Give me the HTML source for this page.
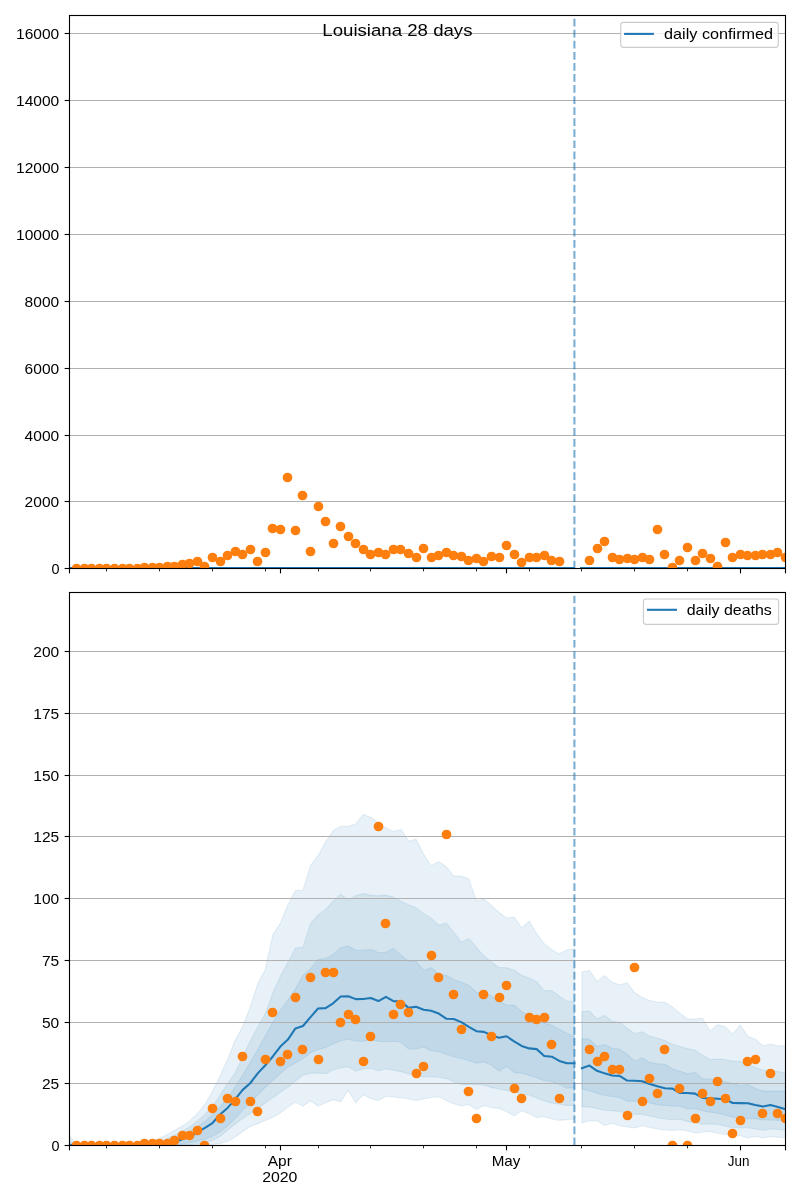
<!DOCTYPE html><html><head><meta charset="utf-8"><style>html,body{margin:0;padding:0;background:#fff;}svg{display:block;will-change:transform}</style></head><body><svg width="800" height="1200" viewBox="0 0 800 1200">
<rect width="800" height="1200" fill="#fff"/>
<defs><clipPath id="c1"><rect x="69.5" y="15.6" width="716.0" height="552.8"/></clipPath><clipPath id="c2"><rect x="69.5" y="592.4" width="716.0" height="552.9"/></clipPath></defs>
<g clip-path="url(#c1)">
<line x1="69.5" x2="785.5" y1="568.50" y2="568.50" stroke="#b0b0b0" stroke-width="1.11"/>
<line x1="69.5" x2="785.5" y1="501.50" y2="501.50" stroke="#b0b0b0" stroke-width="1.11"/>
<line x1="69.5" x2="785.5" y1="435.50" y2="435.50" stroke="#b0b0b0" stroke-width="1.11"/>
<line x1="69.5" x2="785.5" y1="368.50" y2="368.50" stroke="#b0b0b0" stroke-width="1.11"/>
<line x1="69.5" x2="785.5" y1="301.50" y2="301.50" stroke="#b0b0b0" stroke-width="1.11"/>
<line x1="69.5" x2="785.5" y1="234.50" y2="234.50" stroke="#b0b0b0" stroke-width="1.11"/>
<line x1="69.5" x2="785.5" y1="167.50" y2="167.50" stroke="#b0b0b0" stroke-width="1.11"/>
<line x1="69.5" x2="785.5" y1="100.50" y2="100.50" stroke="#b0b0b0" stroke-width="1.11"/>
<line x1="69.5" x2="785.5" y1="33.50" y2="33.50" stroke="#b0b0b0" stroke-width="1.11"/>
<polyline points="64.5,568.0 574.75,568.0" fill="none" stroke="#1f77b4" stroke-width="2.08"/>
<polyline points="580,568.0 790.5,568.0" fill="none" stroke="#1f77b4" stroke-width="2.08"/>
<circle cx="76.50" cy="568.50" r="4.86" fill="#ff7f0e"/>
<circle cx="84.50" cy="568.50" r="4.86" fill="#ff7f0e"/>
<circle cx="91.50" cy="568.50" r="4.86" fill="#ff7f0e"/>
<circle cx="99.50" cy="568.50" r="4.86" fill="#ff7f0e"/>
<circle cx="106.50" cy="568.50" r="4.86" fill="#ff7f0e"/>
<circle cx="114.50" cy="568.50" r="4.86" fill="#ff7f0e"/>
<circle cx="122.50" cy="568.50" r="4.86" fill="#ff7f0e"/>
<circle cx="129.50" cy="568.50" r="4.86" fill="#ff7f0e"/>
<circle cx="137.50" cy="568.50" r="4.86" fill="#ff7f0e"/>
<circle cx="144.50" cy="567.50" r="4.86" fill="#ff7f0e"/>
<circle cx="152.50" cy="567.50" r="4.86" fill="#ff7f0e"/>
<circle cx="159.50" cy="567.50" r="4.86" fill="#ff7f0e"/>
<circle cx="167.50" cy="566.50" r="4.86" fill="#ff7f0e"/>
<circle cx="174.50" cy="566.50" r="4.86" fill="#ff7f0e"/>
<circle cx="182.50" cy="564.50" r="4.86" fill="#ff7f0e"/>
<circle cx="189.50" cy="563.50" r="4.86" fill="#ff7f0e"/>
<circle cx="197.50" cy="561.50" r="4.86" fill="#ff7f0e"/>
<circle cx="204.50" cy="566.50" r="4.86" fill="#ff7f0e"/>
<circle cx="212.50" cy="557.50" r="4.86" fill="#ff7f0e"/>
<circle cx="220.50" cy="561.50" r="4.86" fill="#ff7f0e"/>
<circle cx="227.50" cy="555.50" r="4.86" fill="#ff7f0e"/>
<circle cx="235.50" cy="551.50" r="4.86" fill="#ff7f0e"/>
<circle cx="242.50" cy="554.50" r="4.86" fill="#ff7f0e"/>
<circle cx="250.50" cy="549.50" r="4.86" fill="#ff7f0e"/>
<circle cx="257.50" cy="561.50" r="4.86" fill="#ff7f0e"/>
<circle cx="265.50" cy="552.50" r="4.86" fill="#ff7f0e"/>
<circle cx="272.50" cy="528.50" r="4.86" fill="#ff7f0e"/>
<circle cx="280.50" cy="529.50" r="4.86" fill="#ff7f0e"/>
<circle cx="287.50" cy="477.50" r="4.86" fill="#ff7f0e"/>
<circle cx="295.50" cy="530.50" r="4.86" fill="#ff7f0e"/>
<circle cx="302.50" cy="495.50" r="4.86" fill="#ff7f0e"/>
<circle cx="310.50" cy="551.50" r="4.86" fill="#ff7f0e"/>
<circle cx="318.50" cy="506.50" r="4.86" fill="#ff7f0e"/>
<circle cx="325.50" cy="521.50" r="4.86" fill="#ff7f0e"/>
<circle cx="333.50" cy="543.50" r="4.86" fill="#ff7f0e"/>
<circle cx="340.50" cy="526.50" r="4.86" fill="#ff7f0e"/>
<circle cx="348.50" cy="536.50" r="4.86" fill="#ff7f0e"/>
<circle cx="355.50" cy="543.50" r="4.86" fill="#ff7f0e"/>
<circle cx="363.50" cy="549.50" r="4.86" fill="#ff7f0e"/>
<circle cx="370.50" cy="554.50" r="4.86" fill="#ff7f0e"/>
<circle cx="378.50" cy="552.50" r="4.86" fill="#ff7f0e"/>
<circle cx="385.50" cy="554.50" r="4.86" fill="#ff7f0e"/>
<circle cx="393.50" cy="549.50" r="4.86" fill="#ff7f0e"/>
<circle cx="400.50" cy="549.50" r="4.86" fill="#ff7f0e"/>
<circle cx="408.50" cy="553.50" r="4.86" fill="#ff7f0e"/>
<circle cx="416.50" cy="557.50" r="4.86" fill="#ff7f0e"/>
<circle cx="423.50" cy="548.50" r="4.86" fill="#ff7f0e"/>
<circle cx="431.50" cy="557.50" r="4.86" fill="#ff7f0e"/>
<circle cx="438.50" cy="555.50" r="4.86" fill="#ff7f0e"/>
<circle cx="446.50" cy="552.50" r="4.86" fill="#ff7f0e"/>
<circle cx="453.50" cy="555.50" r="4.86" fill="#ff7f0e"/>
<circle cx="461.50" cy="556.50" r="4.86" fill="#ff7f0e"/>
<circle cx="468.50" cy="560.50" r="4.86" fill="#ff7f0e"/>
<circle cx="476.50" cy="558.50" r="4.86" fill="#ff7f0e"/>
<circle cx="483.50" cy="561.50" r="4.86" fill="#ff7f0e"/>
<circle cx="491.50" cy="556.50" r="4.86" fill="#ff7f0e"/>
<circle cx="499.50" cy="557.50" r="4.86" fill="#ff7f0e"/>
<circle cx="506.50" cy="545.50" r="4.86" fill="#ff7f0e"/>
<circle cx="514.50" cy="554.50" r="4.86" fill="#ff7f0e"/>
<circle cx="521.50" cy="562.50" r="4.86" fill="#ff7f0e"/>
<circle cx="529.50" cy="557.50" r="4.86" fill="#ff7f0e"/>
<circle cx="536.50" cy="557.50" r="4.86" fill="#ff7f0e"/>
<circle cx="544.50" cy="555.50" r="4.86" fill="#ff7f0e"/>
<circle cx="551.50" cy="560.50" r="4.86" fill="#ff7f0e"/>
<circle cx="559.50" cy="561.50" r="4.86" fill="#ff7f0e"/>
<circle cx="589.50" cy="560.50" r="4.86" fill="#ff7f0e"/>
<circle cx="597.50" cy="548.50" r="4.86" fill="#ff7f0e"/>
<circle cx="604.50" cy="541.50" r="4.86" fill="#ff7f0e"/>
<circle cx="612.50" cy="557.50" r="4.86" fill="#ff7f0e"/>
<circle cx="619.50" cy="559.50" r="4.86" fill="#ff7f0e"/>
<circle cx="627.50" cy="558.50" r="4.86" fill="#ff7f0e"/>
<circle cx="634.50" cy="559.50" r="4.86" fill="#ff7f0e"/>
<circle cx="642.50" cy="557.50" r="4.86" fill="#ff7f0e"/>
<circle cx="649.50" cy="559.50" r="4.86" fill="#ff7f0e"/>
<circle cx="657.50" cy="529.50" r="4.86" fill="#ff7f0e"/>
<circle cx="664.50" cy="554.50" r="4.86" fill="#ff7f0e"/>
<circle cx="672.50" cy="567.50" r="4.86" fill="#ff7f0e"/>
<circle cx="679.50" cy="560.50" r="4.86" fill="#ff7f0e"/>
<circle cx="687.50" cy="547.50" r="4.86" fill="#ff7f0e"/>
<circle cx="695.50" cy="560.50" r="4.86" fill="#ff7f0e"/>
<circle cx="702.50" cy="553.50" r="4.86" fill="#ff7f0e"/>
<circle cx="710.50" cy="558.50" r="4.86" fill="#ff7f0e"/>
<circle cx="717.50" cy="566.50" r="4.86" fill="#ff7f0e"/>
<circle cx="725.50" cy="542.50" r="4.86" fill="#ff7f0e"/>
<circle cx="732.50" cy="557.50" r="4.86" fill="#ff7f0e"/>
<circle cx="740.50" cy="554.50" r="4.86" fill="#ff7f0e"/>
<circle cx="747.50" cy="555.50" r="4.86" fill="#ff7f0e"/>
<circle cx="755.50" cy="555.50" r="4.86" fill="#ff7f0e"/>
<circle cx="762.50" cy="554.50" r="4.86" fill="#ff7f0e"/>
<circle cx="770.50" cy="554.50" r="4.86" fill="#ff7f0e"/>
<circle cx="777.50" cy="552.50" r="4.86" fill="#ff7f0e"/>
<circle cx="785.50" cy="557.50" r="4.86" fill="#ff7f0e"/>
<line x1="574.41" x2="574.41" y1="568.4" y2="15.6" stroke="#1f77b4" stroke-opacity="0.6" stroke-width="2.08" stroke-dasharray="7.72 3.34"/>
</g>
<g clip-path="url(#c2)">
<polygon points="69.23,1135.26 76.77,1145.28 84.31,1145.04 91.85,1144.79 99.39,1144.54 106.93,1144.29 114.47,1144.04 122.01,1143.80 129.55,1143.55 137.09,1142.75 144.63,1141.83 152.17,1141.02 159.71,1138.16 167.25,1134.42 174.79,1130.32 182.33,1126.09 189.87,1120.67 197.41,1113.65 204.95,1104.23 212.49,1091.36 220.03,1076.34 227.57,1059.33 235.11,1040.56 242.65,1026.59 250.19,1007.11 257.73,983.54 265.27,969.61 272.81,934.60 280.35,923.33 287.89,904.83 295.43,890.40 302.97,890.07 310.51,865.46 318.05,855.52 325.59,841.88 333.13,830.68 340.67,826.39 348.21,826.20 355.75,824.01 363.29,814.51 370.83,817.56 378.37,822.66 385.91,827.94 393.45,831.48 400.99,829.40 408.53,841.24 416.07,839.14 423.61,853.99 431.15,865.91 438.69,861.59 446.23,866.70 453.77,876.00 461.31,876.12 468.85,878.94 476.39,900.87 483.93,899.05 491.47,905.44 499.01,912.48 506.55,917.93 514.09,917.15 521.63,927.92 529.17,921.23 536.71,933.69 544.25,943.65 551.79,949.65 559.33,953.78 566.87,950.05 574.41,948.72 574.41,1119.01 566.87,1119.67 559.33,1120.37 551.79,1119.05 544.25,1116.78 536.71,1117.38 529.17,1113.78 521.63,1110.75 514.09,1115.94 506.55,1111.43 499.01,1108.40 491.47,1107.69 483.93,1105.44 476.39,1109.62 468.85,1104.52 461.31,1106.02 453.77,1103.78 446.23,1100.57 438.69,1096.80 431.15,1097.47 423.61,1098.98 416.07,1100.53 408.53,1099.01 400.99,1097.74 393.45,1097.00 385.91,1096.30 378.37,1100.59 370.83,1098.60 363.29,1094.71 355.75,1102.73 348.21,1090.54 340.67,1101.86 333.13,1099.67 325.59,1102.75 318.05,1106.03 310.51,1100.89 302.97,1106.07 295.43,1102.37 287.89,1107.09 280.35,1112.93 272.81,1117.15 265.27,1120.60 257.73,1123.63 250.19,1126.66 242.65,1131.44 235.11,1137.14 227.57,1141.59 220.03,1143.40 212.49,1144.46 204.95,1144.79 197.41,1145.01 189.87,1145.02 182.33,1145.04 174.79,1145.06 167.25,1145.07 159.71,1145.09 152.17,1145.11 144.63,1145.13 137.09,1145.14 129.55,1145.16 122.01,1145.18 114.47,1145.20 106.93,1145.21 99.39,1145.23 91.85,1145.25 84.31,1145.26 76.77,1145.28 69.23,1145.30" fill="#1f77b4" fill-opacity="0.1" stroke="#1f77b4" stroke-opacity="0.1" stroke-width="1.1"/>
<polygon points="69.23,1140.33 76.77,1145.29 84.31,1145.14 91.85,1144.98 99.39,1144.83 106.93,1144.68 114.47,1144.52 122.01,1144.37 129.55,1144.21 137.09,1144.06 144.63,1143.46 152.17,1142.57 159.71,1141.69 167.25,1138.50 174.79,1134.71 182.33,1130.99 189.87,1126.94 197.41,1120.89 204.95,1114.39 212.49,1106.99 220.03,1095.21 227.57,1083.45 235.11,1073.04 242.65,1057.01 250.19,1041.22 257.73,1026.93 265.27,1013.58 272.81,992.97 280.35,976.50 287.89,962.52 295.43,948.02 302.97,947.20 310.51,923.77 318.05,915.03 325.59,909.44 333.13,901.37 340.67,894.20 348.21,900.52 355.75,895.63 363.29,893.51 370.83,895.16 378.37,895.67 385.91,895.12 393.45,897.26 400.99,901.17 408.53,904.83 416.07,907.66 423.61,913.39 431.15,918.07 438.69,925.32 446.23,922.92 453.77,932.27 461.31,942.16 468.85,938.39 476.39,947.46 483.93,955.81 491.47,961.93 499.01,967.60 506.55,967.80 514.09,970.05 521.63,975.39 529.17,977.99 536.71,981.79 544.25,990.80 551.79,990.45 559.33,996.27 566.87,1001.20 574.41,1001.20 574.41,1105.40 566.87,1105.40 559.33,1104.06 551.79,1103.23 544.25,1101.07 536.71,1098.08 529.17,1095.07 521.63,1094.21 514.09,1092.32 506.55,1090.41 499.01,1089.00 491.47,1087.39 483.93,1085.20 476.39,1084.81 468.85,1084.43 461.31,1084.40 453.77,1081.77 446.23,1078.58 438.69,1077.30 431.15,1076.60 423.61,1076.60 416.07,1076.60 408.53,1073.85 400.99,1071.65 393.45,1070.21 385.91,1068.86 378.37,1070.75 370.83,1068.33 363.29,1068.91 355.75,1071.06 348.21,1066.81 340.67,1067.71 333.13,1069.93 325.59,1073.70 318.05,1073.17 310.51,1073.30 302.97,1075.18 295.43,1080.97 287.89,1087.16 280.35,1092.37 272.81,1097.66 265.27,1102.96 257.73,1108.24 250.19,1113.43 242.65,1118.63 235.11,1123.98 227.57,1130.20 220.03,1136.42 212.49,1140.44 204.95,1142.30 197.41,1143.67 189.87,1144.80 182.33,1144.83 174.79,1144.86 167.25,1144.89 159.71,1144.92 152.17,1144.96 144.63,1144.99 137.09,1145.02 129.55,1145.05 122.01,1145.08 114.47,1145.11 106.93,1145.14 99.39,1145.17 91.85,1145.20 84.31,1145.24 76.77,1145.27 69.23,1145.30" fill="#1f77b4" fill-opacity="0.1" stroke="#1f77b4" stroke-opacity="0.1" stroke-width="1.1"/>
<polygon points="69.23,1143.14 76.77,1145.30 84.31,1145.21 91.85,1145.13 99.39,1145.05 106.93,1144.97 114.47,1144.89 122.01,1144.80 129.55,1144.72 137.09,1144.64 144.63,1144.56 152.17,1144.01 159.71,1142.29 167.25,1140.57 174.79,1138.85 182.33,1135.13 189.87,1131.25 197.41,1126.68 204.95,1121.42 212.49,1114.70 220.03,1106.98 227.57,1098.24 235.11,1087.06 242.65,1074.94 250.19,1062.49 257.73,1049.54 265.27,1035.99 272.81,1022.27 280.35,1010.25 287.89,1000.15 295.43,988.86 302.97,975.24 310.51,968.96 318.05,959.49 325.59,958.45 333.13,954.58 340.67,947.65 348.21,945.83 355.75,950.20 363.29,950.17 370.83,949.63 378.37,952.50 385.91,952.25 393.45,948.40 400.99,955.14 408.53,961.48 416.07,961.28 423.61,970.40 431.15,967.52 438.69,973.99 446.23,975.16 453.77,979.53 461.31,982.18 468.85,985.35 476.39,992.27 483.93,992.99 491.47,995.99 499.01,1001.21 506.55,1005.00 514.09,1005.08 521.63,1011.77 529.17,1015.57 536.71,1018.63 544.25,1023.07 551.79,1025.35 559.33,1029.18 566.87,1033.16 574.41,1036.46 574.41,1087.41 566.87,1088.16 559.33,1084.57 551.79,1081.52 544.25,1080.72 536.71,1077.78 529.17,1075.45 521.63,1073.24 514.09,1072.41 506.55,1066.44 499.01,1070.99 491.47,1064.99 483.93,1062.01 476.39,1063.28 468.85,1060.66 461.31,1058.55 453.77,1056.76 446.23,1054.17 438.69,1051.50 431.15,1051.07 423.61,1046.91 416.07,1048.98 408.53,1049.00 400.99,1042.08 393.45,1041.20 385.91,1041.77 378.37,1041.38 370.83,1039.67 363.29,1041.29 355.75,1040.95 348.21,1039.12 340.67,1040.99 333.13,1043.73 325.59,1047.50 318.05,1049.52 310.51,1052.82 302.97,1058.54 295.43,1062.93 287.89,1067.10 280.35,1073.67 272.81,1080.25 265.27,1087.41 257.73,1094.92 250.19,1102.42 242.65,1110.34 235.11,1118.48 227.57,1125.88 220.03,1131.71 212.49,1136.15 204.95,1139.21 197.41,1141.17 189.87,1142.61 182.33,1144.05 174.79,1144.54 167.25,1144.59 159.71,1144.65 152.17,1144.70 144.63,1144.75 137.09,1144.81 129.55,1144.86 122.01,1144.92 114.47,1144.97 106.93,1145.03 99.39,1145.08 91.85,1145.13 84.31,1145.19 76.77,1145.24 69.23,1145.30" fill="#1f77b4" fill-opacity="0.1" stroke="#1f77b4" stroke-opacity="0.1" stroke-width="1.1"/>
<polygon points="581.95,971.88 589.49,970.30 597.03,981.50 604.57,975.62 612.11,982.33 619.65,984.74 627.19,982.88 634.73,992.75 642.27,997.50 649.81,1000.43 657.35,1002.00 664.89,1002.36 672.43,1006.92 679.97,1013.18 687.51,1019.10 695.05,1019.10 702.59,1018.20 710.13,1030.94 717.67,1024.67 725.21,1026.71 732.75,1034.15 740.29,1024.99 747.83,1036.36 755.37,1039.25 762.91,1045.90 770.45,1044.06 777.99,1045.80 785.53,1045.90 785.53,1137.86 777.99,1137.16 770.45,1136.56 762.91,1137.83 755.37,1136.57 747.83,1137.82 740.29,1135.80 732.75,1135.80 725.21,1134.37 717.67,1133.19 710.13,1131.15 702.59,1132.29 695.05,1133.04 687.51,1130.98 679.97,1129.60 672.43,1130.34 664.89,1129.85 657.35,1129.03 649.81,1127.47 642.27,1125.77 634.73,1127.96 627.19,1126.84 619.65,1125.73 612.11,1123.26 604.57,1125.46 597.03,1120.85 589.49,1120.70 581.95,1123.01" fill="#1f77b4" fill-opacity="0.1" stroke="#1f77b4" stroke-opacity="0.1" stroke-width="1.1"/>
<polygon points="581.95,1011.68 589.49,1011.07 597.03,1018.97 604.57,1015.37 612.11,1021.35 619.65,1022.18 627.19,1028.20 634.73,1033.51 642.27,1031.76 649.81,1036.23 657.35,1038.14 664.89,1040.50 672.43,1044.31 679.97,1046.41 687.51,1048.50 695.05,1050.37 702.59,1055.13 710.13,1059.47 717.67,1059.11 725.21,1059.53 732.75,1061.36 740.29,1061.40 747.83,1064.46 755.37,1067.27 762.91,1070.20 770.45,1070.20 777.99,1071.60 785.53,1073.05 785.53,1130.26 777.99,1129.56 770.45,1128.96 762.91,1130.23 755.37,1129.03 747.83,1127.68 740.29,1127.60 732.75,1127.60 725.21,1126.15 717.67,1124.24 710.13,1124.10 702.59,1124.10 695.05,1122.80 687.51,1121.38 679.97,1119.30 672.43,1119.79 664.89,1118.93 657.35,1117.69 649.81,1116.07 642.27,1114.37 634.73,1114.20 627.19,1114.20 619.65,1111.34 612.11,1110.64 604.57,1110.23 597.03,1108.60 589.49,1106.90 581.95,1106.90" fill="#1f77b4" fill-opacity="0.1" stroke="#1f77b4" stroke-opacity="0.1" stroke-width="1.1"/>
<polygon points="581.95,1038.60 589.49,1039.39 597.03,1046.62 604.57,1044.53 612.11,1048.31 619.65,1048.99 627.19,1054.26 634.73,1061.15 642.27,1057.76 649.81,1062.23 657.35,1063.80 664.89,1064.16 672.43,1068.71 679.97,1071.19 687.51,1073.87 695.05,1072.39 702.59,1078.73 710.13,1079.14 717.67,1079.54 725.21,1081.45 732.75,1083.62 740.29,1085.55 747.83,1084.43 755.37,1088.44 762.91,1091.10 770.45,1091.10 777.99,1091.10 785.53,1091.10 785.53,1120.68 777.99,1120.33 770.45,1120.00 762.91,1120.00 755.37,1118.67 747.83,1118.60 740.29,1117.94 732.75,1117.24 725.21,1115.29 717.67,1113.25 710.13,1112.13 702.59,1111.08 695.05,1108.53 687.51,1108.97 679.97,1106.20 672.43,1106.12 664.89,1105.45 657.35,1104.63 649.81,1103.07 642.27,1101.37 634.73,1101.20 627.19,1101.20 619.65,1097.62 612.11,1096.43 604.57,1095.55 597.03,1093.18 589.49,1090.70 581.95,1089.12" fill="#1f77b4" fill-opacity="0.1" stroke="#1f77b4" stroke-opacity="0.1" stroke-width="1.1"/>
</g>
<g clip-path="url(#c2)">
<line x1="69.5" x2="785.5" y1="1145.50" y2="1145.50" stroke="#b0b0b0" stroke-width="1.11"/>
<line x1="69.5" x2="785.5" y1="1083.50" y2="1083.50" stroke="#b0b0b0" stroke-width="1.11"/>
<line x1="69.5" x2="785.5" y1="1022.50" y2="1022.50" stroke="#b0b0b0" stroke-width="1.11"/>
<line x1="69.5" x2="785.5" y1="960.50" y2="960.50" stroke="#b0b0b0" stroke-width="1.11"/>
<line x1="69.5" x2="785.5" y1="898.50" y2="898.50" stroke="#b0b0b0" stroke-width="1.11"/>
<line x1="69.5" x2="785.5" y1="836.50" y2="836.50" stroke="#b0b0b0" stroke-width="1.11"/>
<line x1="69.5" x2="785.5" y1="775.50" y2="775.50" stroke="#b0b0b0" stroke-width="1.11"/>
<line x1="69.5" x2="785.5" y1="713.50" y2="713.50" stroke="#b0b0b0" stroke-width="1.11"/>
<line x1="69.5" x2="785.5" y1="651.50" y2="651.50" stroke="#b0b0b0" stroke-width="1.11"/>
<polyline points="69.23,1145.02 76.77,1145.29 84.31,1145.19 91.85,1145.08 99.39,1144.98 106.93,1144.88 114.47,1144.77 122.01,1144.67 129.55,1144.56 137.09,1144.46 144.63,1144.35 152.17,1144.25 159.71,1144.14 167.25,1144.04 174.79,1142.00 182.33,1139.27 189.87,1136.75 197.41,1132.18 204.95,1127.89 212.49,1123.02 220.03,1114.50 227.57,1107.92 235.11,1099.34 242.65,1089.87 250.19,1083.25 257.73,1073.36 265.27,1065.27 272.81,1056.48 280.35,1046.57 287.89,1039.60 295.43,1028.43 302.97,1026.04 310.51,1017.07 318.05,1008.50 325.59,1008.14 333.13,1003.35 340.67,996.50 348.21,996.20 355.75,999.10 363.29,999.03 370.83,998.05 378.37,1001.04 385.91,996.84 393.45,1001.17 400.99,1001.38 408.53,1007.88 416.07,1006.75 423.61,1009.74 431.15,1010.79 438.69,1013.54 446.23,1018.70 453.77,1018.97 461.31,1022.15 468.85,1026.82 476.39,1031.20 483.93,1031.86 491.47,1035.29 499.01,1037.77 506.55,1036.24 514.09,1041.32 521.63,1045.99 529.17,1048.40 536.71,1049.14 544.25,1056.00 551.79,1056.70 559.33,1060.89 566.87,1063.30 574.41,1063.30" fill="none" stroke="#1f77b4" stroke-width="2.08" stroke-linecap="square" stroke-linejoin="round"/>
<polyline points="581.95,1068.20 589.49,1065.58 597.03,1070.82 604.57,1073.37 612.11,1075.50 619.65,1075.88 627.19,1080.53 634.73,1080.79 642.27,1081.17 649.81,1084.02 657.35,1086.26 664.89,1088.20 672.43,1088.59 679.97,1093.00 687.51,1093.00 695.05,1093.60 702.59,1097.94 710.13,1098.38 717.67,1098.81 725.21,1099.26 732.75,1103.02 740.29,1103.10 747.83,1103.20 755.37,1105.04 762.91,1106.60 770.45,1105.05 777.99,1107.08 785.53,1109.22" fill="none" stroke="#1f77b4" stroke-width="2.08" stroke-linecap="square" stroke-linejoin="round"/>
<circle cx="76.50" cy="1145.50" r="4.86" fill="#ff7f0e"/>
<circle cx="84.50" cy="1145.50" r="4.86" fill="#ff7f0e"/>
<circle cx="91.50" cy="1145.50" r="4.86" fill="#ff7f0e"/>
<circle cx="99.50" cy="1145.50" r="4.86" fill="#ff7f0e"/>
<circle cx="106.50" cy="1145.50" r="4.86" fill="#ff7f0e"/>
<circle cx="114.50" cy="1145.50" r="4.86" fill="#ff7f0e"/>
<circle cx="122.50" cy="1145.50" r="4.86" fill="#ff7f0e"/>
<circle cx="129.50" cy="1145.50" r="4.86" fill="#ff7f0e"/>
<circle cx="137.50" cy="1145.50" r="4.86" fill="#ff7f0e"/>
<circle cx="144.50" cy="1143.50" r="4.86" fill="#ff7f0e"/>
<circle cx="152.50" cy="1143.50" r="4.86" fill="#ff7f0e"/>
<circle cx="159.50" cy="1143.50" r="4.86" fill="#ff7f0e"/>
<circle cx="167.50" cy="1143.50" r="4.86" fill="#ff7f0e"/>
<circle cx="174.50" cy="1140.50" r="4.86" fill="#ff7f0e"/>
<circle cx="182.50" cy="1135.50" r="4.86" fill="#ff7f0e"/>
<circle cx="189.50" cy="1135.50" r="4.86" fill="#ff7f0e"/>
<circle cx="197.50" cy="1130.50" r="4.86" fill="#ff7f0e"/>
<circle cx="204.50" cy="1145.50" r="4.86" fill="#ff7f0e"/>
<circle cx="212.50" cy="1108.50" r="4.86" fill="#ff7f0e"/>
<circle cx="220.50" cy="1118.50" r="4.86" fill="#ff7f0e"/>
<circle cx="227.50" cy="1098.50" r="4.86" fill="#ff7f0e"/>
<circle cx="235.50" cy="1101.50" r="4.86" fill="#ff7f0e"/>
<circle cx="242.50" cy="1056.50" r="4.86" fill="#ff7f0e"/>
<circle cx="250.50" cy="1101.50" r="4.86" fill="#ff7f0e"/>
<circle cx="257.50" cy="1111.50" r="4.86" fill="#ff7f0e"/>
<circle cx="265.50" cy="1059.50" r="4.86" fill="#ff7f0e"/>
<circle cx="272.50" cy="1012.50" r="4.86" fill="#ff7f0e"/>
<circle cx="280.50" cy="1061.50" r="4.86" fill="#ff7f0e"/>
<circle cx="287.50" cy="1054.50" r="4.86" fill="#ff7f0e"/>
<circle cx="295.50" cy="997.50" r="4.86" fill="#ff7f0e"/>
<circle cx="302.50" cy="1049.50" r="4.86" fill="#ff7f0e"/>
<circle cx="310.50" cy="977.50" r="4.86" fill="#ff7f0e"/>
<circle cx="318.50" cy="1059.50" r="4.86" fill="#ff7f0e"/>
<circle cx="325.50" cy="972.50" r="4.86" fill="#ff7f0e"/>
<circle cx="333.50" cy="972.50" r="4.86" fill="#ff7f0e"/>
<circle cx="340.50" cy="1022.50" r="4.86" fill="#ff7f0e"/>
<circle cx="348.50" cy="1014.50" r="4.86" fill="#ff7f0e"/>
<circle cx="355.50" cy="1019.50" r="4.86" fill="#ff7f0e"/>
<circle cx="363.50" cy="1061.50" r="4.86" fill="#ff7f0e"/>
<circle cx="370.50" cy="1036.50" r="4.86" fill="#ff7f0e"/>
<circle cx="378.50" cy="826.50" r="4.86" fill="#ff7f0e"/>
<circle cx="385.50" cy="923.50" r="4.86" fill="#ff7f0e"/>
<circle cx="393.50" cy="1014.50" r="4.86" fill="#ff7f0e"/>
<circle cx="400.50" cy="1004.50" r="4.86" fill="#ff7f0e"/>
<circle cx="408.50" cy="1012.50" r="4.86" fill="#ff7f0e"/>
<circle cx="416.50" cy="1073.50" r="4.86" fill="#ff7f0e"/>
<circle cx="423.50" cy="1066.50" r="4.86" fill="#ff7f0e"/>
<circle cx="431.50" cy="955.50" r="4.86" fill="#ff7f0e"/>
<circle cx="438.50" cy="977.50" r="4.86" fill="#ff7f0e"/>
<circle cx="446.50" cy="834.50" r="4.86" fill="#ff7f0e"/>
<circle cx="453.50" cy="994.50" r="4.86" fill="#ff7f0e"/>
<circle cx="461.50" cy="1029.50" r="4.86" fill="#ff7f0e"/>
<circle cx="468.50" cy="1091.50" r="4.86" fill="#ff7f0e"/>
<circle cx="476.50" cy="1118.50" r="4.86" fill="#ff7f0e"/>
<circle cx="483.50" cy="994.50" r="4.86" fill="#ff7f0e"/>
<circle cx="491.50" cy="1036.50" r="4.86" fill="#ff7f0e"/>
<circle cx="499.50" cy="997.50" r="4.86" fill="#ff7f0e"/>
<circle cx="506.50" cy="985.50" r="4.86" fill="#ff7f0e"/>
<circle cx="514.50" cy="1088.50" r="4.86" fill="#ff7f0e"/>
<circle cx="521.50" cy="1098.50" r="4.86" fill="#ff7f0e"/>
<circle cx="529.50" cy="1017.50" r="4.86" fill="#ff7f0e"/>
<circle cx="536.50" cy="1019.50" r="4.86" fill="#ff7f0e"/>
<circle cx="544.50" cy="1017.50" r="4.86" fill="#ff7f0e"/>
<circle cx="551.50" cy="1044.50" r="4.86" fill="#ff7f0e"/>
<circle cx="559.50" cy="1098.50" r="4.86" fill="#ff7f0e"/>
<circle cx="589.50" cy="1049.50" r="4.86" fill="#ff7f0e"/>
<circle cx="597.50" cy="1061.50" r="4.86" fill="#ff7f0e"/>
<circle cx="604.50" cy="1056.50" r="4.86" fill="#ff7f0e"/>
<circle cx="612.50" cy="1069.50" r="4.86" fill="#ff7f0e"/>
<circle cx="619.50" cy="1069.50" r="4.86" fill="#ff7f0e"/>
<circle cx="627.50" cy="1115.50" r="4.86" fill="#ff7f0e"/>
<circle cx="634.50" cy="967.50" r="4.86" fill="#ff7f0e"/>
<circle cx="642.50" cy="1101.50" r="4.86" fill="#ff7f0e"/>
<circle cx="649.50" cy="1078.50" r="4.86" fill="#ff7f0e"/>
<circle cx="657.50" cy="1093.50" r="4.86" fill="#ff7f0e"/>
<circle cx="664.50" cy="1049.50" r="4.86" fill="#ff7f0e"/>
<circle cx="672.50" cy="1145.50" r="4.86" fill="#ff7f0e"/>
<circle cx="679.50" cy="1088.50" r="4.86" fill="#ff7f0e"/>
<circle cx="687.50" cy="1145.50" r="4.86" fill="#ff7f0e"/>
<circle cx="695.50" cy="1118.50" r="4.86" fill="#ff7f0e"/>
<circle cx="702.50" cy="1093.50" r="4.86" fill="#ff7f0e"/>
<circle cx="710.50" cy="1101.50" r="4.86" fill="#ff7f0e"/>
<circle cx="717.50" cy="1081.50" r="4.86" fill="#ff7f0e"/>
<circle cx="725.50" cy="1098.50" r="4.86" fill="#ff7f0e"/>
<circle cx="732.50" cy="1133.50" r="4.86" fill="#ff7f0e"/>
<circle cx="740.50" cy="1120.50" r="4.86" fill="#ff7f0e"/>
<circle cx="747.50" cy="1061.50" r="4.86" fill="#ff7f0e"/>
<circle cx="755.50" cy="1059.50" r="4.86" fill="#ff7f0e"/>
<circle cx="762.50" cy="1113.50" r="4.86" fill="#ff7f0e"/>
<circle cx="770.50" cy="1073.50" r="4.86" fill="#ff7f0e"/>
<circle cx="777.50" cy="1113.50" r="4.86" fill="#ff7f0e"/>
<circle cx="785.50" cy="1118.50" r="4.86" fill="#ff7f0e"/>
<line x1="574.41" x2="574.41" y1="1145.3" y2="592.4" stroke="#1f77b4" stroke-opacity="0.6" stroke-width="2.08" stroke-dasharray="7.72 3.34"/>
</g>
<rect x="69.5" y="15.5" width="716.0" height="553.0" fill="none" stroke="#000" stroke-width="1.11"/>
<line x1="69.50" x2="69.50" y1="568.5" y2="573.36" stroke="#000" stroke-width="1.11"/>
<line x1="785.50" x2="785.50" y1="568.5" y2="573.36" stroke="#000" stroke-width="1.11"/>
<line x1="280.50" x2="280.50" y1="568.5" y2="573.36" stroke="#000" stroke-width="1.11"/>
<line x1="506.50" x2="506.50" y1="568.5" y2="573.36" stroke="#000" stroke-width="1.11"/>
<line x1="740.50" x2="740.50" y1="568.5" y2="573.36" stroke="#000" stroke-width="1.11"/>
<line x1="106.50" x2="106.50" y1="568.5" y2="571.40" stroke="#000" stroke-width="0.83"/>
<line x1="159.50" x2="159.50" y1="568.5" y2="571.40" stroke="#000" stroke-width="0.83"/>
<line x1="212.50" x2="212.50" y1="568.5" y2="571.40" stroke="#000" stroke-width="0.83"/>
<line x1="265.50" x2="265.50" y1="568.5" y2="571.40" stroke="#000" stroke-width="0.83"/>
<line x1="318.50" x2="318.50" y1="568.5" y2="571.40" stroke="#000" stroke-width="0.83"/>
<line x1="370.50" x2="370.50" y1="568.5" y2="571.40" stroke="#000" stroke-width="0.83"/>
<line x1="423.50" x2="423.50" y1="568.5" y2="571.40" stroke="#000" stroke-width="0.83"/>
<line x1="476.50" x2="476.50" y1="568.5" y2="571.40" stroke="#000" stroke-width="0.83"/>
<line x1="529.50" x2="529.50" y1="568.5" y2="571.40" stroke="#000" stroke-width="0.83"/>
<line x1="581.50" x2="581.50" y1="568.5" y2="571.40" stroke="#000" stroke-width="0.83"/>
<line x1="634.50" x2="634.50" y1="568.5" y2="571.40" stroke="#000" stroke-width="0.83"/>
<line x1="687.50" x2="687.50" y1="568.5" y2="571.40" stroke="#000" stroke-width="0.83"/>
<rect x="69.5" y="592.5" width="716.0" height="553.0" fill="none" stroke="#000" stroke-width="1.11"/>
<line x1="69.50" x2="69.50" y1="1145.5" y2="1150.36" stroke="#000" stroke-width="1.11"/>
<line x1="785.50" x2="785.50" y1="1145.5" y2="1150.36" stroke="#000" stroke-width="1.11"/>
<line x1="280.50" x2="280.50" y1="1145.5" y2="1150.36" stroke="#000" stroke-width="1.11"/>
<line x1="506.50" x2="506.50" y1="1145.5" y2="1150.36" stroke="#000" stroke-width="1.11"/>
<line x1="740.50" x2="740.50" y1="1145.5" y2="1150.36" stroke="#000" stroke-width="1.11"/>
<line x1="106.50" x2="106.50" y1="1145.5" y2="1148.40" stroke="#000" stroke-width="0.83"/>
<line x1="159.50" x2="159.50" y1="1145.5" y2="1148.40" stroke="#000" stroke-width="0.83"/>
<line x1="212.50" x2="212.50" y1="1145.5" y2="1148.40" stroke="#000" stroke-width="0.83"/>
<line x1="265.50" x2="265.50" y1="1145.5" y2="1148.40" stroke="#000" stroke-width="0.83"/>
<line x1="318.50" x2="318.50" y1="1145.5" y2="1148.40" stroke="#000" stroke-width="0.83"/>
<line x1="370.50" x2="370.50" y1="1145.5" y2="1148.40" stroke="#000" stroke-width="0.83"/>
<line x1="423.50" x2="423.50" y1="1145.5" y2="1148.40" stroke="#000" stroke-width="0.83"/>
<line x1="476.50" x2="476.50" y1="1145.5" y2="1148.40" stroke="#000" stroke-width="0.83"/>
<line x1="529.50" x2="529.50" y1="1145.5" y2="1148.40" stroke="#000" stroke-width="0.83"/>
<line x1="581.50" x2="581.50" y1="1145.5" y2="1148.40" stroke="#000" stroke-width="0.83"/>
<line x1="634.50" x2="634.50" y1="1145.5" y2="1148.40" stroke="#000" stroke-width="0.83"/>
<line x1="687.50" x2="687.50" y1="1145.5" y2="1148.40" stroke="#000" stroke-width="0.83"/>
<line x1="64.64" x2="69.5" y1="568.50" y2="568.50" stroke="#000" stroke-width="1.11"/>
<text x="59.5" y="573.50" text-anchor="end" font-size="14.2" textLength="8.00" lengthAdjust="spacingAndGlyphs" font-family="Liberation Sans, sans-serif">0</text>
<line x1="64.64" x2="69.5" y1="1145.50" y2="1145.50" stroke="#000" stroke-width="1.11"/>
<text x="59.5" y="1150.50" text-anchor="end" font-size="14.2" textLength="8.00" lengthAdjust="spacingAndGlyphs" font-family="Liberation Sans, sans-serif">0</text>
<line x1="64.64" x2="69.5" y1="501.50" y2="501.50" stroke="#000" stroke-width="1.11"/>
<text x="59.2" y="506.50" text-anchor="end" font-size="14.2" textLength="34.56" lengthAdjust="spacingAndGlyphs" font-family="Liberation Sans, sans-serif">2000</text>
<line x1="64.64" x2="69.5" y1="1083.50" y2="1083.50" stroke="#000" stroke-width="1.11"/>
<text x="59.2" y="1088.50" text-anchor="end" font-size="14.2" textLength="17.28" lengthAdjust="spacingAndGlyphs" font-family="Liberation Sans, sans-serif">25</text>
<line x1="64.64" x2="69.5" y1="435.50" y2="435.50" stroke="#000" stroke-width="1.11"/>
<text x="59.2" y="440.50" text-anchor="end" font-size="14.2" textLength="34.56" lengthAdjust="spacingAndGlyphs" font-family="Liberation Sans, sans-serif">4000</text>
<line x1="64.64" x2="69.5" y1="1022.50" y2="1022.50" stroke="#000" stroke-width="1.11"/>
<text x="59.2" y="1027.50" text-anchor="end" font-size="14.2" textLength="17.28" lengthAdjust="spacingAndGlyphs" font-family="Liberation Sans, sans-serif">50</text>
<line x1="64.64" x2="69.5" y1="368.50" y2="368.50" stroke="#000" stroke-width="1.11"/>
<text x="59.2" y="373.50" text-anchor="end" font-size="14.2" textLength="34.56" lengthAdjust="spacingAndGlyphs" font-family="Liberation Sans, sans-serif">6000</text>
<line x1="64.64" x2="69.5" y1="960.50" y2="960.50" stroke="#000" stroke-width="1.11"/>
<text x="59.2" y="965.50" text-anchor="end" font-size="14.2" textLength="17.28" lengthAdjust="spacingAndGlyphs" font-family="Liberation Sans, sans-serif">75</text>
<line x1="64.64" x2="69.5" y1="301.50" y2="301.50" stroke="#000" stroke-width="1.11"/>
<text x="59.2" y="306.50" text-anchor="end" font-size="14.2" textLength="34.56" lengthAdjust="spacingAndGlyphs" font-family="Liberation Sans, sans-serif">8000</text>
<line x1="64.64" x2="69.5" y1="898.50" y2="898.50" stroke="#000" stroke-width="1.11"/>
<text x="59.2" y="903.50" text-anchor="end" font-size="14.2" textLength="25.92" lengthAdjust="spacingAndGlyphs" font-family="Liberation Sans, sans-serif">100</text>
<line x1="64.64" x2="69.5" y1="234.50" y2="234.50" stroke="#000" stroke-width="1.11"/>
<text x="59.2" y="239.50" text-anchor="end" font-size="14.2" textLength="43.20" lengthAdjust="spacingAndGlyphs" font-family="Liberation Sans, sans-serif">10000</text>
<line x1="64.64" x2="69.5" y1="836.50" y2="836.50" stroke="#000" stroke-width="1.11"/>
<text x="59.2" y="841.50" text-anchor="end" font-size="14.2" textLength="25.92" lengthAdjust="spacingAndGlyphs" font-family="Liberation Sans, sans-serif">125</text>
<line x1="64.64" x2="69.5" y1="167.50" y2="167.50" stroke="#000" stroke-width="1.11"/>
<text x="59.2" y="172.50" text-anchor="end" font-size="14.2" textLength="43.20" lengthAdjust="spacingAndGlyphs" font-family="Liberation Sans, sans-serif">12000</text>
<line x1="64.64" x2="69.5" y1="775.50" y2="775.50" stroke="#000" stroke-width="1.11"/>
<text x="59.2" y="780.50" text-anchor="end" font-size="14.2" textLength="25.92" lengthAdjust="spacingAndGlyphs" font-family="Liberation Sans, sans-serif">150</text>
<line x1="64.64" x2="69.5" y1="100.50" y2="100.50" stroke="#000" stroke-width="1.11"/>
<text x="59.2" y="105.50" text-anchor="end" font-size="14.2" textLength="43.20" lengthAdjust="spacingAndGlyphs" font-family="Liberation Sans, sans-serif">14000</text>
<line x1="64.64" x2="69.5" y1="713.50" y2="713.50" stroke="#000" stroke-width="1.11"/>
<text x="59.2" y="718.50" text-anchor="end" font-size="14.2" textLength="25.92" lengthAdjust="spacingAndGlyphs" font-family="Liberation Sans, sans-serif">175</text>
<line x1="64.64" x2="69.5" y1="33.50" y2="33.50" stroke="#000" stroke-width="1.11"/>
<text x="59.2" y="38.50" text-anchor="end" font-size="14.2" textLength="43.20" lengthAdjust="spacingAndGlyphs" font-family="Liberation Sans, sans-serif">16000</text>
<line x1="64.64" x2="69.5" y1="651.50" y2="651.50" stroke="#000" stroke-width="1.11"/>
<text x="59.2" y="656.50" text-anchor="end" font-size="14.2" textLength="25.92" lengthAdjust="spacingAndGlyphs" font-family="Liberation Sans, sans-serif">200</text>
<text x="279.8" y="1165.9" text-anchor="middle" font-size="14.2" textLength="24.0" lengthAdjust="spacingAndGlyphs" font-family="Liberation Sans, sans-serif">Apr</text>
<text x="506.0" y="1165.9" text-anchor="middle" font-size="14.2" textLength="28.7" lengthAdjust="spacingAndGlyphs" font-family="Liberation Sans, sans-serif">May</text>
<text x="738.6" y="1165.9" text-anchor="middle" font-size="14.2" textLength="21.7" lengthAdjust="spacingAndGlyphs" font-family="Liberation Sans, sans-serif">Jun</text>
<text x="279.8" y="1182" text-anchor="middle" font-size="14.2" textLength="35.3" lengthAdjust="spacingAndGlyphs" font-family="Liberation Sans, sans-serif">2020</text>
<text x="322.3" y="36.1" font-size="17.4" textLength="150.2" lengthAdjust="spacingAndGlyphs" font-family="Liberation Sans, sans-serif">Louisiana 28 days</text>
<rect x="620.7" y="22.35" width="157.55" height="25.05" rx="2.8" fill="#fff" fill-opacity="0.8" stroke="#cccccc" stroke-width="1.11"/>
<line x1="624.1" x2="653.9" y1="33.9" y2="33.9" stroke="#1f77b4" stroke-width="2.08"/>
<text x="664.1" y="38.80" font-size="14.2" textLength="109.0" lengthAdjust="spacingAndGlyphs" font-family="Liberation Sans, sans-serif">daily confirmed</text>
<rect x="643.4" y="599" width="135.20" height="25.40" rx="2.8" fill="#fff" fill-opacity="0.8" stroke="#cccccc" stroke-width="1.11"/>
<line x1="647" x2="677" y1="609.8" y2="609.8" stroke="#1f77b4" stroke-width="2.08"/>
<text x="686.7" y="614.70" font-size="14.2" textLength="85.1" lengthAdjust="spacingAndGlyphs" font-family="Liberation Sans, sans-serif">daily deaths</text>
</svg></body></html>
